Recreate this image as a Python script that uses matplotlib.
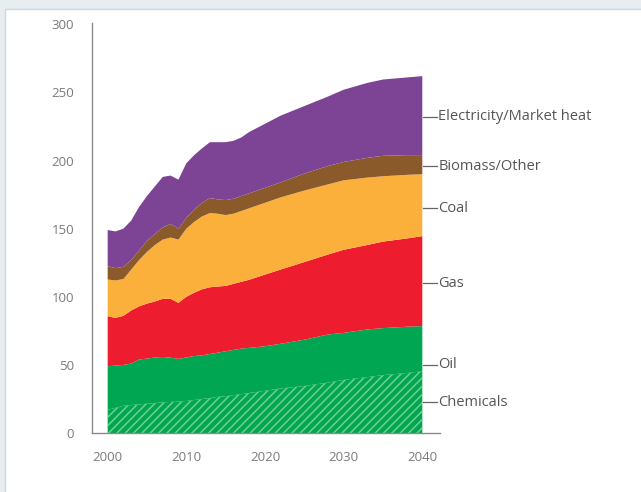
import numpy as np
import matplotlib.pyplot as plt
from matplotlib.patches import Rectangle

plt.rcParams['font.family'] = ['Open Sans', 'DejaVu Sans']
plt.rcParams['hatch.color'] = '#6fd08e'
plt.rcParams['hatch.linewidth'] = 1.1

years = [2000, 2001, 2002, 2003, 2004, 2005, 2006, 2007, 2008, 2009, 2010,
         2011, 2012, 2013, 2014, 2015, 2016, 2017, 2018, 2020, 2022, 2025,
         2028, 2030, 2033, 2035, 2038, 2040]

# layer thickness for each sector
chemicals = [17, 18.5, 20, 20.5, 21, 21.5, 22, 22.5, 22.8, 23, 23.5,
             24.2, 25, 25.7, 26.5, 27, 27.8, 28.5, 29.4, 31, 32.7, 34.5,
             37, 39, 41, 42.5, 44, 45.3]
oil = [32, 31, 30, 30.5, 33, 33.1, 33.5, 33.3, 32.5, 31.4, 32,
       32.3, 32, 32.3, 32.5, 33, 33.2, 33.5, 33.1, 32.7, 32.8, 34,
       35.3, 34.5, 35, 34.5, 34, 33.2]
gas = [36.7, 35, 36, 39, 39, 40.4, 41, 42.7, 43.2, 41.1, 44.5,
       46.5, 48.5, 49, 48.5, 48, 48.5, 49, 50, 52.6, 54.5, 57,
       58.7, 61, 62, 63.5, 64.8, 66]
coal = [27, 27.5, 27, 30, 34, 38, 41.5, 43.5, 45, 46.5, 50,
        52, 53.5, 54.5, 53.5, 52, 51.5, 52, 52.5, 52.7, 53, 52.5,
        51.5, 51, 49.5, 48, 46.7, 45.5]
biomass = [9.8, 9, 9, 7, 7, 8, 8, 9, 10, 8, 8,
           9, 10, 11, 10.5, 11, 11, 11, 11, 11, 11, 12.5,
           13.5, 13.5, 14.5, 15, 14.5, 14]
electricity = [26.5, 27, 28, 29, 32, 33, 35, 37, 35.5, 36, 40,
               40, 40, 41, 42, 42.5, 42.5, 43, 45, 47, 49, 49.5,
               51, 53, 55, 56, 57, 58]

series = [chemicals, oil, gas, coal, biomass, electricity]
names = ['Chemicals', 'Oil', 'Gas', 'Coal', 'Biomass/Other', 'Electricity/Market heat']
colors = ['#00a651', '#00a651', '#ed1c2e', '#fbb03b', '#8b5a2b', '#7d4394']
label_y = [22.5, 50, 110, 165, 196, 232]

fig = plt.figure(figsize=(6.41, 4.92), dpi=100)
fig.patch.set_facecolor('#e8edf0')
# white panel with thin border
panel = Rectangle((4.5 / 641, -0.01), 1, 1.01 - 8.5 / 492, transform=fig.transFigure,
                  facecolor='white', edgecolor='#c9d7e2', linewidth=1, zorder=-10)
fig.add_artist(panel)

ax = fig.add_axes([91.7 / 641, 59 / 492, 348.3 / 641, 410 / 492])
ax.set_facecolor('none')

x = np.array(years)
base = np.zeros(len(years))
for i, (vals, c) in enumerate(zip(series, colors)):
    top = base + np.array(vals)
    if i == 0:
        ax.fill_between(x, base, top, facecolor=c, edgecolor='#6fd08e', hatch='////', linewidth=0)
    else:
        ax.fill_between(x, base, top, facecolor=c, linewidth=0)
    base = top

ax.set_xlim(1997.97, 2042.25)
ax.set_ylim(0, 301)
ax.set_xticks([2000, 2010, 2020, 2030, 2040])
ax.set_yticks([0, 50, 100, 150, 200, 250, 300])
ax.tick_params(length=0, labelsize=9.5, colors='#7a7a7a')
ax.tick_params(axis='y', pad=12.5)
ax.tick_params(axis='x', pad=13)
for s in ['top', 'right']:
    ax.spines[s].set_visible(False)
for s in ['left', 'bottom']:
    ax.spines[s].set_color('#8a8a8a')
    ax.spines[s].set_linewidth(1)

# right side labels with short leader lines
for name, ly in zip(names, label_y):
    ax.plot([2040.1, 2041.9], [ly, ly], color='#666666', linewidth=0.9, clip_on=False)
    ax.text(2042.05, ly, name, fontsize=10.5, color='#555555', va='center', ha='left')

fig.savefig('out.png', dpi=100, facecolor=fig.get_facecolor())
